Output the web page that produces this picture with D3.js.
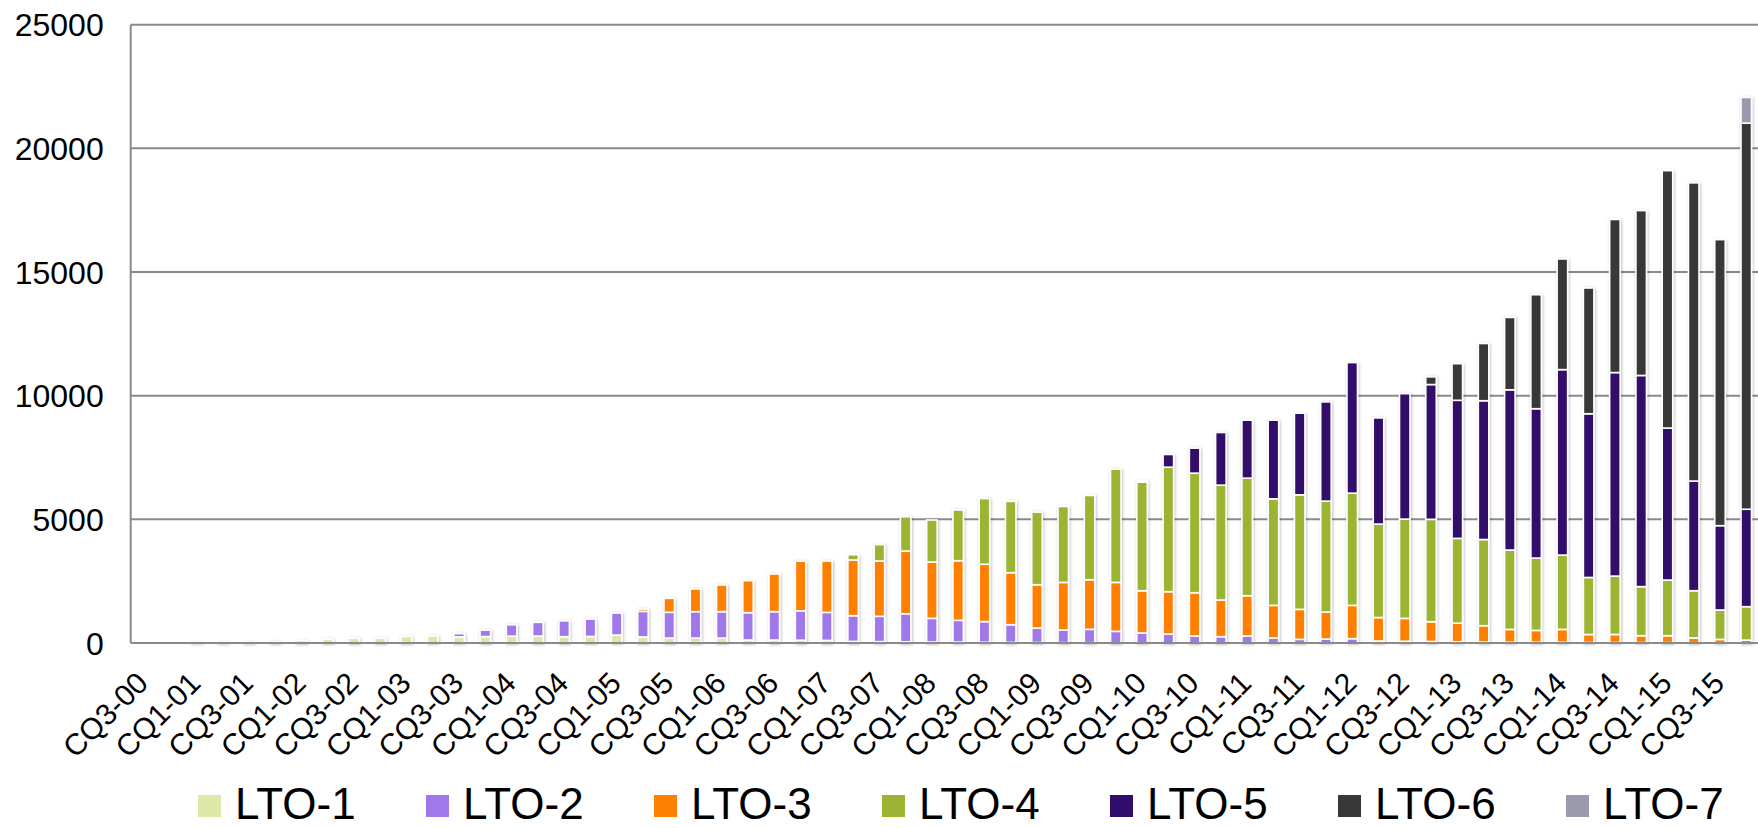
<!DOCTYPE html>
<html>
<head>
<meta charset="utf-8">
<script src="https://cdn.jsdelivr.net/npm/d3@7"></script>
<style>
  html, body { margin: 0; padding: 0; background: #ffffff; }
  svg { display: block; }
  text { font-family: "Liberation Sans", Arial, sans-serif; fill: #000; }
</style>
</head>
<body>
<script>
// ---------- DATA ----------
const categories = [
  "CQ3-00","CQ4-00",
  "CQ1-01","CQ2-01","CQ3-01","CQ4-01",
  "CQ1-02","CQ2-02","CQ3-02","CQ4-02",
  "CQ1-03","CQ2-03","CQ3-03","CQ4-03",
  "CQ1-04","CQ2-04","CQ3-04","CQ4-04",
  "CQ1-05","CQ2-05","CQ3-05","CQ4-05",
  "CQ1-06","CQ2-06","CQ3-06","CQ4-06",
  "CQ1-07","CQ2-07","CQ3-07","CQ4-07",
  "CQ1-08","CQ2-08","CQ3-08","CQ4-08",
  "CQ1-09","CQ2-09","CQ3-09","CQ4-09",
  "CQ1-10","CQ2-10","CQ3-10","CQ4-10",
  "CQ1-11","CQ2-11","CQ3-11","CQ4-11",
  "CQ1-12","CQ2-12","CQ3-12","CQ4-12",
  "CQ1-13","CQ2-13","CQ3-13","CQ4-13",
  "CQ1-14","CQ2-14","CQ3-14","CQ4-14",
  "CQ1-15","CQ2-15","CQ3-15","CQ4-15"
];
// tick labels shown on the x axis (every second quarter)
const tickLabels = [
  "CQ3-00","CQ1-01","CQ3-01","CQ1-02","CQ3-02","CQ1-03","CQ3-03","CQ1-04",
  "CQ3-04","CQ1-05","CQ3-05","CQ1-06","CQ3-06","CQ1-07","CQ3-07","CQ1-08",
  "CQ3-08","CQ1-09","CQ3-09","CQ1-10","CQ3-10","CQ1-11","CQ3-11","CQ1-12",
  "CQ3-12","CQ1-13","CQ3-13","CQ1-14","CQ3-14","CQ1-15","CQ3-15"
];
const yTicks = [0, 5000, 10000, 15000, 20000, 25000];
const seriesNames = ["LTO-1","LTO-2","LTO-3","LTO-4","LTO-5","LTO-6","LTO-7"];

const lto1 = [0,0,15,20,25,40,100,150,190,200,265,290,245,260,275,280,255,265,320,245,
  200,200,200,120,120,115,105,65,55,50,40,40,30,25,20,15,12,10,8,5,
  5,0,0,0,0,0,0,0,0,0,0,0,0,0,0,0,0,0,0,0,0,0];
const lto2 = [0,0,0,0,0,0,0,0,0,0,0,0,135,260,460,555,640,700,890,1035,
  1040,1067,1067,1106,1147,1187,1132,1038,1024,1132,957,876,835,714,586,510,540,461,396,359,
  278,256,283,202,148,160,175,80,70,60,50,40,30,30,30,20,20,16,15,10,8,6];
const lto3 = [0,0,0,0,0,0,0,0,0,0,0,0,0,0,0,0,0,0,0,90,
  566,916,1078,1294,1523,2008,2075,2251,2237,2534,2278,2413,2319,2103,1750,1925,2006,1979,1710,1710,
  1750,1481,1629,1319,1212,1092,1346,950,925,800,750,660,520,480,520,325,325,280,280,195,137,109];
const lto4 = [0,0,0,0,0,0,0,0,0,0,0,0,0,0,0,0,0,0,0,0,
  0,0,0,0,0,0,0,215,661,1388,1698,2048,2655,2884,2936,3070,3407,4578,4389,5035,
  4834,4645,4753,4309,4632,4484,4538,3777,4015,4140,3430,3484,3209,2925,3004,2305,2360,1984,2250,1910,1190,1355];
const lto5 = [0,0,0,0,0,0,0,0,0,0,0,0,0,0,0,0,0,0,0,0,
  0,0,0,0,0,0,0,0,0,0,0,0,0,0,0,0,0,0,60,512,
  1010,2128,2343,3178,3299,4012,5278,4293,5070,5450,5583,5612,6479,6038,7500,6619,8230,8537,6145,4433,3410,3938];
const lto6 = [0,0,0,0,0,0,0,0,0,0,0,0,0,0,0,0,0,0,0,0,
  0,0,0,0,0,0,0,0,0,0,0,0,0,0,0,0,0,0,0,0,
  0,0,0,0,0,0,0,0,0,310,1480,2313,2925,4609,4473,5085,6191,6667,10409,12057,11565,15612];
const lto7 = [0,0,0,0,0,0,0,0,0,0,0,0,0,0,0,0,0,0,0,0,
  0,0,0,0,0,0,0,0,0,0,0,0,0,0,0,0,0,0,0,0,
  0,0,0,0,0,0,0,0,0,0,0,0,0,0,0,0,0,0,0,0,0,1038];

const seriesColors = ["#dbe8a9","#a078ea","#ff8000","#9bb533","#300d6b","#383838","#9a9aae"];

// ---------- BUILD ----------
const W = 1758, H = 828;
const plot = { left: 130.7, right: 1759.4, top: 24.7, bottom: 643 };

const table = categories.map((c, i) => ({
  cat: c,
  "LTO-1": lto1[i], "LTO-2": lto2[i], "LTO-3": lto3[i], "LTO-4": lto4[i],
  "LTO-5": lto5[i], "LTO-6": lto6[i], "LTO-7": lto7[i]
}));

const svg = d3.select("body").append("svg").attr("width", W).attr("height", H);

const defs = svg.append("defs");
const f = defs.append("filter").attr("id", "shadow")
  .attr("x", "-50%").attr("y", "-5%").attr("width", "200%").attr("height", "110%");
f.append("feDropShadow").attr("dx", 0.8).attr("dy", 0.8)
  .attr("stdDeviation", 1.4).attr("flood-color", "#000").attr("flood-opacity", 0.28);

const x = d3.scaleBand().domain(categories)
  .range([plot.left, plot.right]).paddingInner(0.6).paddingOuter(0.3);
const y = d3.scaleLinear().domain([0, 25000]).range([plot.bottom, plot.top]);

// gridlines
svg.append("g").selectAll("line").data(yTicks.filter(t => t > 0)).join("line")
  .attr("x1", plot.left).attr("x2", W)
  .attr("y1", d => y(d)).attr("y2", d => y(d))
  .attr("stroke", "#8a8a8a").attr("stroke-width", 2);

// y axis line
svg.append("line").attr("x1", plot.left).attr("x2", plot.left)
  .attr("y1", y(25000)).attr("y2", plot.bottom)
  .attr("stroke", "#8a8a8a").attr("stroke-width", 2);

// y labels
const yAxis = d3.axisLeft(y).tickValues(yTicks).tickSize(0).tickPadding(27).tickFormat(d3.format("d"));
const gy = svg.append("g").attr("transform", `translate(${plot.left},0)`).call(yAxis);
gy.select(".domain").remove();
gy.selectAll("text").attr("font-size", 32).attr("font-family", '"Liberation Sans", Arial, sans-serif')
  .attr("fill", "#000").attr("dy", "0.35em");

// stacked bars
const stack = d3.stack().keys(seriesNames);
const stacked = stack(table);

const barsG = svg.append("g").attr("filter", "url(#shadow)");
barsG.selectAll("g.series").data(stacked).join("g")
  .attr("class", "series")
  .attr("fill", (d, i) => seriesColors[i])
  .selectAll("rect")
  .data(d => d.filter(p => p[1] - p[0] > 0))
  .join("rect")
  .attr("x", d => x(d.data.cat))
  .attr("width", x.bandwidth())
  .attr("y", d => y(d[1]))
  .attr("height", d => y(d[0]) - y(d[1]))
  .attr("stroke", "#ffffff")
  .attr("stroke-width", 1.6);

// x axis line
svg.append("line").attr("x1", plot.left).attr("x2", W)
  .attr("y1", plot.bottom).attr("y2", plot.bottom)
  .attr("stroke", "#8a8a8a").attr("stroke-width", 2);

// x labels
const xAxis = d3.axisBottom(x).tickValues(tickLabels).tickSize(0).tickPadding(0);
const gx = svg.append("g").attr("transform", `translate(0,${plot.bottom})`).call(xAxis);
gx.select(".domain").remove();
gx.selectAll("text")
  .attr("font-size", 30).attr("font-family", '"Liberation Sans", Arial, sans-serif')
  .attr("fill", "#000")
  .attr("text-anchor", "end")
  .attr("dy", null).attr("y", null)
  .attr("transform", "translate(6,42) rotate(-45)");

// legend
const legend = svg.append("g");
const lx = d3.scaleLinear().domain([0, 1]).range([198, 426]);
const items = legend.selectAll("g").data(seriesNames).join("g")
  .attr("transform", (d, i) => `translate(${lx(i)},795)`);
items.append("rect").attr("width", 23).attr("height", 22)
  .attr("fill", (d, i) => seriesColors[i]);
items.append("text").attr("x", 37).attr("y", 23.5)
  .attr("font-size", 44).text(d => d);
</script>
</body>
</html>
